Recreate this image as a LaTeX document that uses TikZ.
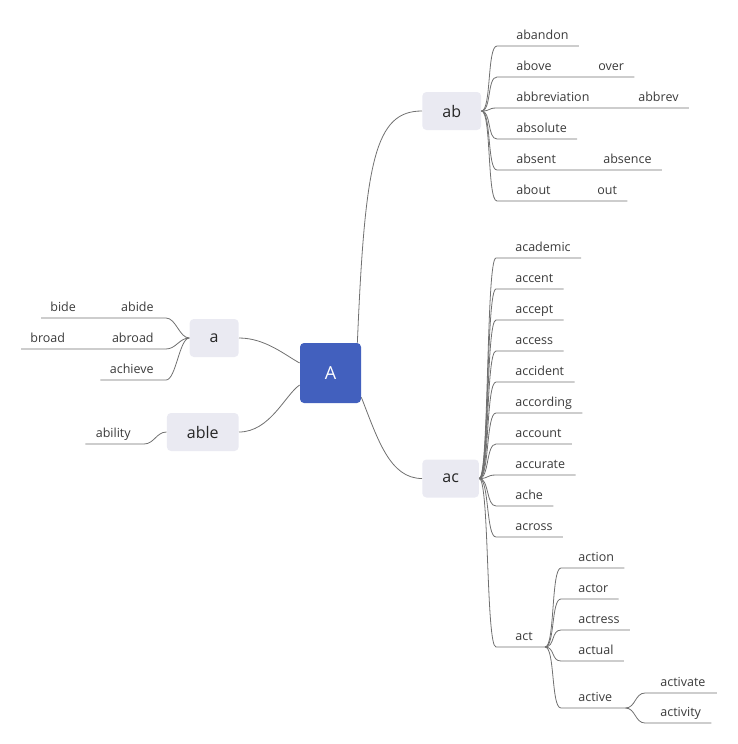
\documentclass[tikz,border=0pt]{standalone}
\usepackage{fontspec}
\setmainfont{Open Sans}

\definecolor{topicblue}{RGB}{66,96,190}
\definecolor{topicgray}{RGB}{234,234,242}
\definecolor{linegray}{RGB}{112,112,112}
\definecolor{wordgray}{RGB}{58,58,58}

\tikzset{every picture/.style={line width=0.75pt}}
\tikzset{
  central/.style={fill=topicblue, rounded corners=4pt, minimum width=61, minimum height=60, text=white, font=\fontsize{18}{20}\selectfont},
  topic/.style={fill=topicgray, rounded corners=4pt, inner xsep=20pt, minimum height=38, text=black!85, font=\fontsize{16}{18}\selectfont},
  word/.style={inner sep=0pt, text=wordgray, font=\fontsize{12.5}{14}\selectfont},
  branch/.style={draw=linegray, line width=0.8pt}
}

\begin{document}
\begin{tikzpicture}[x=1pt,y=1pt,yscale=-1,xscale=1]
\useasboundingbox (0,0) rectangle (737,744);

%Topics
\node[central] (A) at (330.5,373) {A};
\node[topic, anchor=west] (ab) at (422,111) {ab};
\node[topic, anchor=west] (ac) at (422,478.5) {ac};
\node[topic, anchor=east] (a) at (239,338) {a};
\node[topic, anchor=east] (able) at (239,432) {able};

%Main branches
\draw[branch] ([shift={(-4,0)}]A.north east) .. controls (365,160) and (375,111) .. (ab.west);
\draw[branch] ([shift={(0,-6)}]A.south east) .. controls (378,440) and (390,478.5) .. (ac.west);
\draw[branch] (a.east) .. controls (265,338) and (285,355) .. ([shift={(0,-10)}]A.west);
\draw[branch] (able.east) .. controls (270,432) and (285,395) .. ([shift={(0,12)}]A.west);

% Text Node : ab
\node[word, anchor=base west] (abandon) at (516,39) {abandon};
\node[word, anchor=base west] (above) at (516,70) {above};
\node[word, anchor=base west] (over) at (598,70) {over};
\node[word, anchor=base west] (abbreviation) at (516,101) {abbreviation};
\node[word, anchor=base west] (abbrev) at (638,101) {abbrev};
\node[word, anchor=base west] (absolute) at (516,132) {absolute};
\node[word, anchor=base west] (absent) at (516,163) {absent};
\node[word, anchor=base west] (absence) at (603,163) {absence};
\node[word, anchor=base west] (about) at (516,194) {about};
\node[word, anchor=base west] (out) at (597,194) {out};

\draw[branch] (ab.east) .. controls +(10,0) and +(-10,0) .. ([shift={(-19,7)}]abandon.base west) -- ([shift={(10,7)}]abandon.base east);
\draw[branch] (ab.east) .. controls +(10,0) and +(-10,0) .. ([shift={(-19,7)}]above.base west) -- ([shift={(10,7)}]over.base east);
\draw[branch] (ab.east) .. controls +(10,0) and +(-10,0) .. ([shift={(-19,7)}]abbreviation.base west) -- ([shift={(10,7)}]abbrev.base east);
\draw[branch] (ab.east) .. controls +(10,0) and +(-10,0) .. ([shift={(-19,7)}]absolute.base west) -- ([shift={(10,7)}]absolute.base east);
\draw[branch] (ab.east) .. controls +(10,0) and +(-10,0) .. ([shift={(-19,7)}]absent.base west) -- ([shift={(10,7)}]absence.base east);
\draw[branch] (ab.east) .. controls +(10,0) and +(-10,0) .. ([shift={(-19,7)}]about.base west) -- ([shift={(10,7)}]out.base east);

% Text Node : ac
\node[word, anchor=base west] (academic) at (515,251) {academic};
\node[word, anchor=base west] (accent) at (515,282) {accent};
\node[word, anchor=base west] (accept) at (515,313) {accept};
\node[word, anchor=base west] (access) at (515,344) {access};
\node[word, anchor=base west] (accident) at (515,375) {accident};
\node[word, anchor=base west] (according) at (515,406) {according};
\node[word, anchor=base west] (account) at (515,437) {account};
\node[word, anchor=base west] (accurate) at (515,468) {accurate};
\node[word, anchor=base west] (ache) at (515,499) {ache};
\node[word, anchor=base west] (across) at (515,530) {across};
\node[word, anchor=base west] (act) at (515,640) {act};

\draw[branch] (ac.east) .. controls +(10,0) and +(-10,0) .. ([shift={(-19,7)}]academic.base west) -- ([shift={(10,7)}]academic.base east);
\draw[branch] (ac.east) .. controls +(10,0) and +(-10,0) .. ([shift={(-19,7)}]accent.base west) -- ([shift={(10,7)}]accent.base east);
\draw[branch] (ac.east) .. controls +(10,0) and +(-10,0) .. ([shift={(-19,7)}]accept.base west) -- ([shift={(10,7)}]accept.base east);
\draw[branch] (ac.east) .. controls +(10,0) and +(-10,0) .. ([shift={(-19,7)}]access.base west) -- ([shift={(10,7)}]access.base east);
\draw[branch] (ac.east) .. controls +(10,0) and +(-10,0) .. ([shift={(-19,7)}]accident.base west) -- ([shift={(10,7)}]accident.base east);
\draw[branch] (ac.east) .. controls +(10,0) and +(-10,0) .. ([shift={(-19,7)}]according.base west) -- ([shift={(10,7)}]according.base east);
\draw[branch] (ac.east) .. controls +(10,0) and +(-10,0) .. ([shift={(-19,7)}]account.base west) -- ([shift={(10,7)}]account.base east);
\draw[branch] (ac.east) .. controls +(10,0) and +(-10,0) .. ([shift={(-19,7)}]accurate.base west) -- ([shift={(10,7)}]accurate.base east);
\draw[branch] (ac.east) .. controls +(10,0) and +(-10,0) .. ([shift={(-19,7)}]ache.base west) -- ([shift={(10,7)}]ache.base east);
\draw[branch] (ac.east) .. controls +(10,0) and +(-10,0) .. ([shift={(-19,7)}]across.base west) -- ([shift={(10,7)}]across.base east);
\draw[branch] (ac.east) .. controls +(10,0) and +(-10,0) .. ([shift={(-19,7)}]act.base west) -- ([shift={(12,7)}]act.base east) coordinate (act-end);

% Text Node : act
\node[word, anchor=base west] (action) at (578,561) {action};
\node[word, anchor=base west] (actor) at (578,592) {actor};
\node[word, anchor=base west] (actress) at (578,623) {actress};
\node[word, anchor=base west] (actual) at (578,654) {actual};
\node[word, anchor=base west] (active) at (578,701) {active};

\draw[branch] (act-end) .. controls +(10,0) and +(-10,0) .. ([shift={(-17,7)}]action.base west) -- ([shift={(10,7)}]action.base east);
\draw[branch] (act-end) .. controls +(10,0) and +(-10,0) .. ([shift={(-17,7)}]actor.base west) -- ([shift={(10,7)}]actor.base east);
\draw[branch] (act-end) .. controls +(10,0) and +(-10,0) .. ([shift={(-17,7)}]actress.base west) -- ([shift={(10,7)}]actress.base east);
\draw[branch] (act-end) .. controls +(10,0) and +(-10,0) .. ([shift={(-17,7)}]actual.base west) -- ([shift={(10,7)}]actual.base east);
\draw[branch] (act-end) .. controls +(10,0) and +(-10,0) .. ([shift={(-17,7)}]active.base west) -- ([shift={(13,7)}]active.base east) coordinate (active-end);

% Text Node : active
\node[word, anchor=base west] (activate) at (660,686) {activate};
\node[word, anchor=base west] (activity) at (660,716) {activity};

\draw[branch] (active-end) .. controls +(10,0) and +(-10,0) .. ([shift={(-15,7)}]activate.base west) -- ([shift={(11,7)}]activate.base east);
\draw[branch] (active-end) .. controls +(10,0) and +(-10,0) .. ([shift={(-15,7)}]activity.base west) -- ([shift={(10,7)}]activity.base east);

% Text Node : a
\node[word, anchor=base east] (abide) at (154,311) {abide};
\node[word, anchor=base west] (bide) at (50,311) {bide};
\node[word, anchor=base east] (abroad) at (154,342) {abroad};
\node[word, anchor=base west] (broad) at (30,342) {broad};
\node[word, anchor=base east] (achieve) at (154,373) {achieve};

\draw[branch] (a.west) .. controls +(-10,0) and +(10,0) .. ([shift={(12,7)}]abide.base east) -- ([shift={(-9,7)}]bide.base west);
\draw[branch] (a.west) .. controls +(-10,0) and +(10,0) .. ([shift={(12,7)}]abroad.base east) -- ([shift={(-9,7)}]broad.base west);
\draw[branch] (a.west) .. controls +(-10,0) and +(10,0) .. ([shift={(12,7)}]achieve.base east) -- ([shift={(-9,7)}]achieve.base west);

% Text Node : able
\node[word, anchor=base east] (ability) at (131,437) {ability};

\draw[branch] (able.west) .. controls +(-10,0) and +(10,0) .. ([shift={(13,7)}]ability.base east) -- ([shift={(-10,7)}]ability.base west);

\end{tikzpicture}
\end{document}
